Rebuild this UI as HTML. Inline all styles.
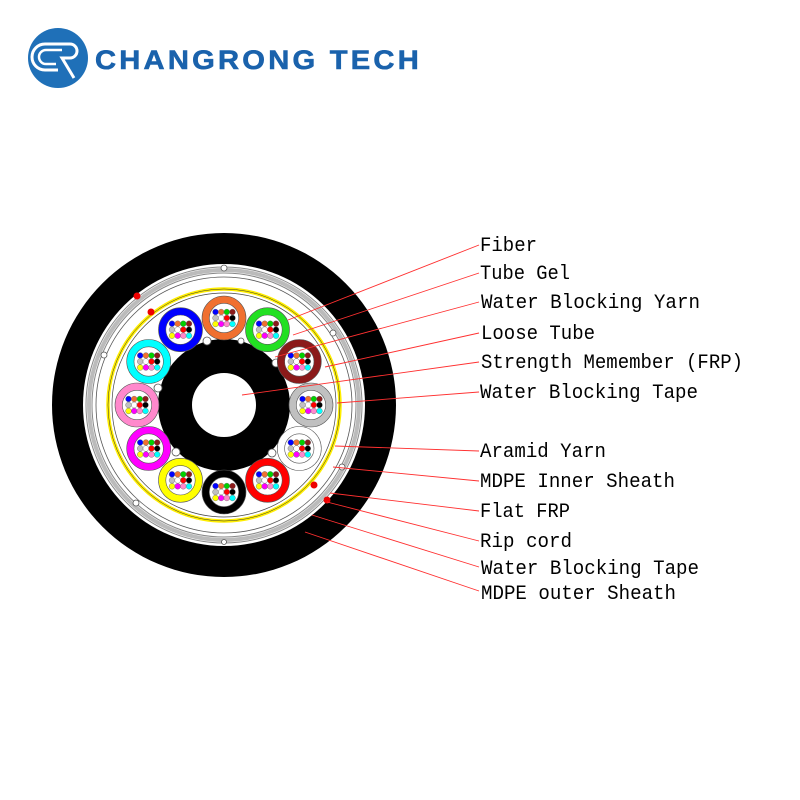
<!DOCTYPE html>
<html><head><meta charset="utf-8"><style>html,body{margin:0;padding:0;background:#fff}svg{display:block}</style></head>
<body>
<svg width="800" height="800" viewBox="0 0 800 800" xmlns="http://www.w3.org/2000/svg">
<defs>
<g id="fb" stroke="#666" stroke-width="0.4">
<circle cx="-8.5" cy="-6" r="2.9" fill="#0000ff"/><circle cx="-2.8" cy="-6" r="2.9" fill="#f07030"/><circle cx="2.8" cy="-6" r="2.9" fill="#00d000"/><circle cx="8.5" cy="-6" r="2.9" fill="#8b1a1a"/>
<circle cx="-8.5" cy="0" r="2.9" fill="#c0c0c0"/><circle cx="-2.8" cy="0" r="2.9" fill="#fff"/><circle cx="2.8" cy="0" r="2.9" fill="#ff0000"/><circle cx="8.5" cy="0" r="2.9" fill="#000"/>
<circle cx="-8.5" cy="6" r="2.9" fill="#ffff00"/><circle cx="-2.8" cy="6" r="2.9" fill="#ff00ff"/><circle cx="2.8" cy="6" r="2.9" fill="#ff88cc"/><circle cx="8.5" cy="6" r="2.9" fill="#00ffff"/>
</g>
</defs>
<!-- logo -->
<circle cx="58" cy="58" r="30" fill="#1f70b8"/>
<path d="M62 44 H45 a13 13 0 0 0 0 26 H58" fill="none" stroke="#fff" stroke-width="3"/>
<path d="M62 50 H46 a7 7 0 0 0 0 14 H56" fill="none" stroke="#fff" stroke-width="2.5"/>
<path d="M60 44 H70 a7 7 0 0 1 0 14 H62 L74 78" fill="none" stroke="#fff" stroke-width="3"/>
<text x="95" y="69" font-family="Liberation Sans, sans-serif" font-weight="bold" font-size="27" letter-spacing="3" fill="#1a62ac" stroke="#1a62ac" stroke-width="0.6" textLength="327" lengthAdjust="spacingAndGlyphs">CHANGRONG TECH</text>
<!-- cable -->
<g transform="translate(224,405)">
<circle r="172" fill="#000"/>
<circle r="141" fill="#fff"/>
<circle r="138" fill="none" stroke="#888" stroke-width="1"/>
<circle r="135" fill="none" stroke="#bbb" stroke-width="4"/>
<circle r="132" fill="none" stroke="#888" stroke-width="1"/>
<circle r="128" fill="none" stroke="#555" stroke-width="0.8"/>
<circle r="116" fill="none" stroke="#ffee00" stroke-width="3.5"/>
<circle r="116" fill="none" stroke="#333" stroke-width="0.5"/>
<circle r="112" fill="none" stroke="#444" stroke-width="0.7"/>
<g fill="#fff" stroke="#555" stroke-width="0.8">
<circle cx="0" cy="-137" r="3"/><circle cx="109" cy="-72" r="3"/><circle cx="118" cy="62" r="3"/><circle cx="-88" cy="98" r="3"/><circle cx="-120" cy="-50" r="3"/><circle cx="0" cy="137" r="2.5"/>
</g>
<circle cx="-87" cy="-109" r="3.5" fill="#e00"/>
<circle cx="-73" cy="-93" r="3.5" fill="#e00"/>
<circle cx="90" cy="80" r="3.5" fill="#e00"/>
<circle cx="103" cy="95" r="3.5" fill="#e00"/>
<circle r="66" fill="#000"/>
<circle r="32" fill="#fff"/>
<g fill="#fff" stroke="#555" stroke-width="0.8">
<circle cx="-17" cy="-64" r="4"/><circle cx="52" cy="-42" r="4"/><circle cx="-66" cy="-17" r="4"/><circle cx="-48" cy="47" r="4"/><circle cx="48" cy="48" r="4"/><circle cx="17" cy="-64" r="3"/>
</g>
<g stroke="#555" stroke-width="0.6">
<g transform="translate(0,-87)"><circle r="22" fill="#f07030"/><circle r="14.7" fill="#fff"/><use href="#fb"/></g>
<g transform="translate(43.5,-75.3)"><circle r="22" fill="#22e022"/><circle r="14.7" fill="#fff"/><use href="#fb"/></g>
<g transform="translate(75.3,-43.5)"><circle r="22" fill="#8b1a1a"/><circle r="14.7" fill="#fff"/><use href="#fb"/></g>
<g transform="translate(87,0)"><circle r="22" fill="#c0c0c0"/><circle r="14.7" fill="#fff"/><use href="#fb"/></g>
<g transform="translate(75.3,43.5)"><circle r="22" fill="#fff"/><circle r="14.7" fill="#fff"/><use href="#fb"/></g>
<g transform="translate(43.5,75.3)"><circle r="22" fill="#ff0000"/><circle r="14.7" fill="#fff"/><use href="#fb"/></g>
<g transform="translate(0,87)"><circle r="22" fill="#000"/><circle r="14.7" fill="#fff"/><use href="#fb"/></g>
<g transform="translate(-43.5,75.3)"><circle r="22" fill="#ffff00"/><circle r="14.7" fill="#fff"/><use href="#fb"/></g>
<g transform="translate(-75.3,43.5)"><circle r="22" fill="#ff00ff"/><circle r="14.7" fill="#fff"/><use href="#fb"/></g>
<g transform="translate(-87,0)"><circle r="22" fill="#ff88cc"/><circle r="14.7" fill="#fff"/><use href="#fb"/></g>
<g transform="translate(-75.3,-43.5)"><circle r="22" fill="#00ffff"/><circle r="14.7" fill="#fff"/><use href="#fb"/></g>
<g transform="translate(-43.5,-75.3)"><circle r="22" fill="#0000ff"/><circle r="14.7" fill="#fff"/><use href="#fb"/></g>
</g>
</g>
<!-- leaders -->
<g stroke="#ff3030" stroke-width="0.9">
<line x1="479" y1="245" x2="288" y2="320"/>
<line x1="479" y1="273" x2="293" y2="335"/>
<line x1="479" y1="302" x2="275" y2="357"/>
<line x1="479" y1="333" x2="325" y2="367"/>
<line x1="479" y1="362" x2="242" y2="395"/>
<line x1="479" y1="392" x2="337" y2="403"/>
<line x1="479" y1="451" x2="335" y2="446"/>
<line x1="479" y1="481" x2="333" y2="467"/>
<line x1="479" y1="511" x2="330" y2="493"/>
<line x1="479" y1="541" x2="327" y2="502"/>
<line x1="479" y1="567" x2="312" y2="515"/>
<line x1="479" y1="591" x2="305" y2="532"/>
</g>
<g font-family="Liberation Mono, monospace" font-size="20" fill="#000">
<text x="480" y="251" textLength="57" lengthAdjust="spacingAndGlyphs">Fiber</text>
<text x="480" y="279" textLength="90" lengthAdjust="spacingAndGlyphs">Tube Gel</text>
<text x="481" y="308" textLength="219" lengthAdjust="spacingAndGlyphs">Water Blocking Yarn</text>
<text x="481" y="339" textLength="114" lengthAdjust="spacingAndGlyphs">Loose Tube</text>
<text x="481" y="368" textLength="262" lengthAdjust="spacingAndGlyphs">Strength Memember (FRP)</text>
<text x="480" y="398" textLength="218" lengthAdjust="spacingAndGlyphs">Water Blocking Tape</text>
<text x="480" y="457" textLength="126" lengthAdjust="spacingAndGlyphs">Aramid Yarn</text>
<text x="480" y="487" textLength="195" lengthAdjust="spacingAndGlyphs">MDPE Inner Sheath</text>
<text x="480" y="517" textLength="90" lengthAdjust="spacingAndGlyphs">Flat FRP</text>
<text x="480" y="547" textLength="92" lengthAdjust="spacingAndGlyphs">Rip cord</text>
<text x="481" y="574" textLength="218" lengthAdjust="spacingAndGlyphs">Water Blocking Tape</text>
<text x="481" y="599" textLength="195" lengthAdjust="spacingAndGlyphs">MDPE outer Sheath</text>
</g>
</svg>
</body></html>
